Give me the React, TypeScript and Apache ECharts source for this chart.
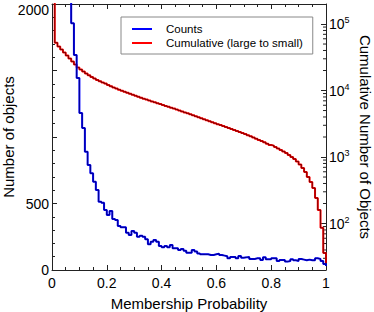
import React, { useEffect, useRef } from "react";
import * as echarts from "echarts";

// Histogram of counts per membership-probability bin (bin width 0.01, bins start at 0.00 ... 0.99)
const counts = [
  250000, 6500, 4500, 4100, 3700, 3300, 2700, 1855, 1617, 1444,
  1180, 1068, 890, 790, 727, 664, 602, 514, 505, 451,
  414, 444, 383, 376, 331, 321, 321, 281, 263, 293,
  281, 250, 258, 250, 231, 193, 213, 226, 213, 180,
  171, 180, 171, 188, 163, 163, 150, 158, 145, 130,
  130, 150, 140, 125, 118, 118, 118, 113, 113, 118,
  123, 113, 108, 103, 88, 98, 98, 88, 105, 93,
  95, 98, 83, 83, 88, 88, 75, 95, 80, 80,
  88, 88, 68, 75, 75, 63, 68, 80, 73, 68,
  83, 78, 73, 78, 73, 73, 88, 83, 68, 45,
];
const countsEnd = 30;

// Cumulative number (large to small) per bin, right log axis
const cumulative = [
  302000, 52400, 45900, 41400, 37300, 33600, 30300, 27300, 24600, 22200,
  20700, 19300, 18000, 16900, 16000, 15200, 14400, 13800, 13200, 12700,
  12100, 11600, 11100, 10700, 10300, 9930, 9570, 9250, 8930, 8630,
  8340, 8050, 7770, 7530, 7300, 7080, 6860, 6650, 6450, 6250,
  6060, 5870, 5690, 5520, 5350, 5180, 5000, 4850, 4690, 4540,
  4390, 4240, 4100, 3960, 3820, 3690, 3570, 3460, 3340, 3230,
  3120, 3020, 2920, 2820, 2730, 2640, 2550, 2460, 2380, 2290,
  2210, 2130, 2050, 1970, 1890, 1810, 1740, 1670, 1590, 1520,
  1485, 1415, 1343, 1275, 1211, 1149, 1072, 1000, 934, 856,
  772, 684, 595, 501, 421, 342, 242, 160, 86, 36,
];
const cumulativeEnd = 25.5;

const binWidth = 0.01;
const leftAxisLabels = [0, 500, 2000];
const rightMinorTicks = [
  30, 40, 50, 60, 70, 80, 90,
  200, 300, 400, 500, 600, 700, 800, 900,
  2000, 3000, 4000, 5000, 6000, 7000, 8000, 9000,
  20000, 30000, 40000, 50000, 60000, 70000, 80000, 90000,
];

const FONT = "'Liberation Sans', Arial, Helvetica, sans-serif";

function toSteps(vals: number[], endVal: number) {
  const pts = vals.map((v, i) => [+(i * binWidth).toFixed(2), v]);
  pts.push([1, endVal]);
  return pts;
}

export default function App() {
  const ref = useRef<HTMLDivElement>(null);
  useEffect(() => {
    document.body.style.margin = "0";
    const chart = echarts.init(ref.current!, undefined, { renderer: "svg" });
    const axisColor = "#222";
    const xAxisBase = {
      type: "value",
      min: 0,
      max: 1,
      interval: 0.2,
      axisLine: { show: true, onZero: false, lineStyle: { color: axisColor, width: 1 } },
      axisTick: { show: true, inside: true, length: 5, lineStyle: { color: axisColor } },
      minorTick: { show: true, splitNumber: 4, length: 3, lineStyle: { color: axisColor } },
      splitLine: { show: false },
    };
    const blueData = toSteps(counts, countsEnd);
    const redData = toSteps(cumulative, cumulativeEnd);
    const leftMax = 2000;
    chart.setOption({
      animation: false,
      backgroundColor: "#fff",
      grid: { left: 52, right: 48, top: 4, bottom: 42, containLabel: false, outerBoundsMode: "none" },
      legend: {
        orient: "vertical",
        left: 121,
        top: 17,
        data: [
          { name: "Counts", icon: "rect" },
          { name: "Cumulative (large to small)", icon: "rect" },
        ],
        itemWidth: 20,
        itemHeight: 2,
        itemGap: 0,
        padding: [5, 10, 4, 11],
        borderColor: "#888",
        borderWidth: 1,
        borderRadius: 0,
        backgroundColor: "#fff",
        textStyle: { fontSize: 11.5, lineHeight: 14, color: "#000", fontFamily: FONT, padding: [0, 0, 0, 9] },
      },
      xAxis: [
        {
          ...xAxisBase,
          position: "bottom",
          axisLabel: {
            color: "#000",
            fontSize: 14,
            fontFamily: FONT,
            margin: 6,
            formatter: (v: number) => (v === 0 ? "0" : v === 1 ? "1" : v.toFixed(1)),
          },
          name: "Membership Probability",
          nameLocation: "middle",
          nameGap: 26,
          nameMoveOverlap: false,
          nameTextStyle: { fontSize: 15, color: "#000", fontFamily: FONT },
        },
        {
          ...xAxisBase,
          position: "top",
          axisLabel: { show: false },
        },
      ],
      yAxis: [
        {
          type: "value",
          min: 0,
          max: leftMax,
          interval: 500,
          position: "left",
          axisLine: { show: true, onZero: false, lineStyle: { color: axisColor, width: 1 } },
          axisTick: { show: true, inside: true, length: 5, lineStyle: { color: axisColor } },
          minorTick: { show: true, splitNumber: 5, length: 3, lineStyle: { color: axisColor } },
          splitLine: { show: false },
          axisLabel: {
            color: "#000",
            fontSize: 14,
            fontFamily: FONT,
            margin: 3,
            formatter: (v: number) =>
              leftAxisLabels.includes(v) ? (v === leftMax ? "{t|" + v + "}" : String(v)) : "",
            rich: {
              t: { fontSize: 14, fontFamily: FONT, color: "#000", padding: [11, 0, 0, 0] },
            },
          },
          name: "Number of objects",
          nameLocation: "middle",
          nameGap: 36,
          nameMoveOverlap: false,
          nameTextStyle: { fontSize: 15, color: "#000", fontFamily: FONT },
        },
        {
          type: "log",
          logBase: 10,
          min: 20,
          max: 200000,
          position: "right",
          axisLine: { show: true, onZero: false, lineStyle: { color: axisColor, width: 1 } },
          axisTick: { show: true, inside: true, length: 5, lineStyle: { color: axisColor } },
          minorTick: { show: false },
          splitLine: { show: false },
          axisLabel: {
            showMinLabel: false,
            showMaxLabel: false,
            color: "#000",
            fontSize: 14,
            fontFamily: FONT,
            margin: 3,
            formatter: (v: number) => {
              const e = Math.round(Math.log10(v));
              return "{b|10}{s|" + e + "}";
            },
            rich: {
              b: { fontSize: 14, fontFamily: FONT, color: "#000" },
              s: { fontSize: 9, fontFamily: FONT, color: "#000", padding: [0, 0, 8, 0] },
            },
          },
          name: "Cumulative Number of Objects",
          nameLocation: "middle",
          nameGap: 32,
          nameRotate: -90,
          nameMoveOverlap: false,
          nameTextStyle: { fontSize: 15, color: "#000", fontFamily: FONT },
        },
      ],
      series: [
        {
          name: "Cumulative (large to small)",
          type: "line",
          xAxisIndex: 0,
          yAxisIndex: 1,
          step: "end",
          symbol: "none",
          clip: true,
          data: redData,
          color: "#ff0000",
          lineStyle: { color: "#ff0000", width: 2 },
        },
        {
          name: "cumCore",
          type: "line",
          xAxisIndex: 0,
          yAxisIndex: 1,
          step: "end",
          symbol: "none",
          clip: true,
          silent: true,
          data: redData,
          lineStyle: { color: "#600000", width: 0.8 },
        },
        {
          name: "Counts",
          type: "line",
          xAxisIndex: 0,
          yAxisIndex: 0,
          step: "end",
          symbol: "none",
          clip: true,
          data: blueData,
          color: "#0000ff",
          lineStyle: { color: "#0000ff", width: 2 },
        },
        {
          name: "countsCore",
          type: "line",
          xAxisIndex: 0,
          yAxisIndex: 0,
          step: "end",
          symbol: "none",
          clip: true,
          silent: true,
          data: blueData,
          lineStyle: { color: "#000070", width: 0.8 },
        },
        {
          name: "rightMinor",
          type: "custom",
          xAxisIndex: 0,
          yAxisIndex: 1,
          clip: false,
          silent: true,
          data: rightMinorTicks.map((v) => [1, v]),
          renderItem: (_p: any, api: any) => {
            const pt = api.coord([1, api.value(1)]);
            return {
              type: "line",
              shape: { x1: pt[0], y1: pt[1], x2: pt[0] - 3, y2: pt[1] },
              style: { stroke: axisColor, lineWidth: 1 },
            };
          },
        },
      ],
    });
    return () => chart.dispose();
  }, []);
  return <div ref={ref} style={{ width: 374, height: 312 }} />;
}
